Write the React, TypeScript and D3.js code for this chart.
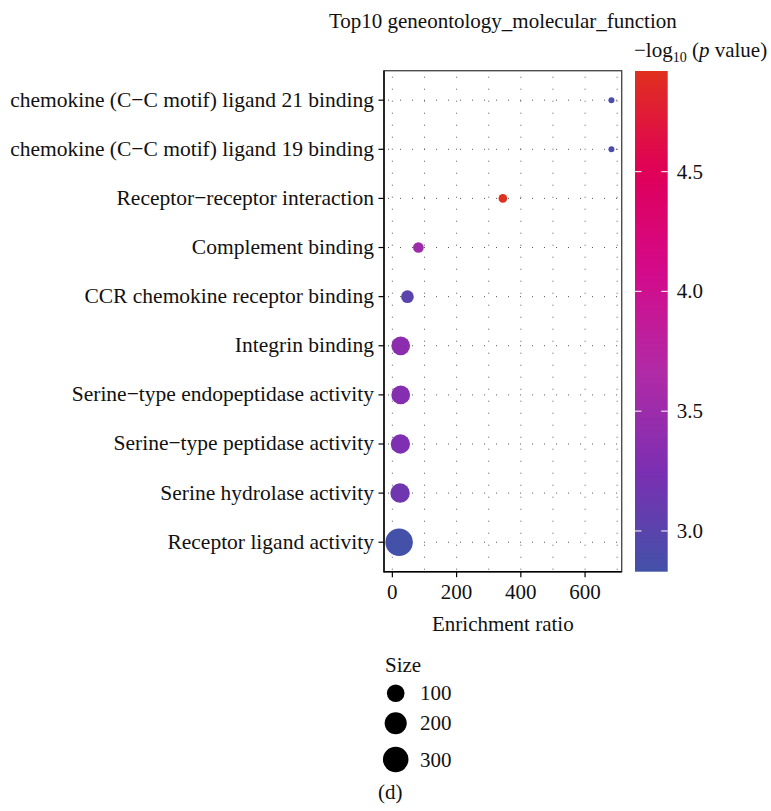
import React from "react";
import * as d3 from "d3";

const categories = [
  "chemokine (C\u2212C motif) ligand 21 binding",
  "chemokine (C\u2212C motif) ligand 19 binding",
  "Receptor\u2212receptor interaction",
  "Complement binding",
  "CCR chemokine receptor binding",
  "Integrin binding",
  "Serine\u2212type endopeptidase activity",
  "Serine\u2212type peptidase activity",
  "Serine hydrolase activity",
  "Receptor ligand activity",
];
const enrichment = [682, 682, 344, 81, 47, 26, 26, 25, 24, 21];
const sizes = [2, 2, 8, 21, 41, 143, 143, 156, 160, 400];
const logp = [2.88, 2.88, 4.92, 3.52, 3.0, 3.38, 3.33, 3.28, 3.16, 2.83];
const xTicks = [0, 200, 400, 600];
const xGrid = [0, 100, 200, 300, 400, 500, 600, 700];
const colorTicks = [3.0, 3.5, 4.0, 4.5];
const sizeLegend = [100, 200, 300];

const FONT = "'Liberation Serif', 'DejaVu Serif', serif";
const FS = 21;

export default function App() {
  const W = 771, H = 811;
  const panel = { left: 384, right: 621.7, top: 70.7, bottom: 571.7 };
  const x = d3.scaleLinear().domain([-26, 714]).range([panel.left, panel.right]);
  const y = d3
    .scalePoint<string>()
    .domain(categories)
    .range([panel.top, panel.bottom])
    .padding(0.6);

  const cMin = d3.min(logp) as number;
  const cMax = d3.max(logp) as number;
  const colorStops = ["#4351A8", "#7B2FB2", "#B12AA6", "#D40A8A", "#DF0057", "#E0301E"];
  const color = d3
    .scaleLinear<string>()
    .domain(d3.range(colorStops.length).map((i) => cMin + ((cMax - cMin) * i) / (colorStops.length - 1)))
    .range(colorStops)
    .interpolate(d3.interpolateRgb);

  const sMin = d3.min(sizes) as number;
  const sMax = d3.max(sizes) as number;
  const rLin = d3.scaleLinear().domain([0, 1]).range([3, 13.7]);
  const rScale = (v: number) => rLin(Math.sqrt(Math.max(0, (v - sMin) / (sMax - sMin))));

  const bar = { left: 635, right: 667.7, top: 71, bottom: 571.7 };
  const cy = d3.scaleLinear().domain([cMin, cMax]).range([bar.bottom, bar.top]);
  const gradStops = d3.range(0, 1.0001, 0.05).map((t) => ({
    off: t,
    col: color(cMin + (cMax - cMin) * t),
  }));

  const order = d3.range(categories.length).sort((a, b) => sizes[b] - sizes[a]);

  return (
    <svg width={W} height={H} style={{ display: "block", position: "absolute", left: 0, top: 0 }} fontFamily={FONT}>
      <defs>
        <linearGradient id="cbar" x1="0" y1="1" x2="0" y2="0">
          {gradStops.map((s, i) => (
            <stop key={i} offset={s.off} stopColor={s.col} />
          ))}
        </linearGradient>
      </defs>
      <rect width={W} height={H} fill="#fff" />
      {/* title */}
      <text x={(panel.left + panel.right) / 2} y={28} textAnchor="middle" fontSize={FS} fill="#111">
        Top10 geneontology_molecular_function
      </text>
      {/* grid */}
      {xGrid.map((g) => (
        <line key={"vx" + g} x1={x(g)} x2={x(g)} y1={panel.top} y2={panel.bottom} stroke="#555" strokeWidth={1} strokeDasharray="1 11" strokeDashoffset={-6} />
      ))}
      {categories.map((c) => (
        <line key={"hy" + c} x1={panel.left} x2={panel.right} y1={y(c)} y2={y(c)} stroke="#555" strokeWidth={1} strokeDasharray="1 11" strokeDashoffset={-4} />
      ))}
      {/* panel border */}
      <rect x={panel.left} y={panel.top} width={panel.right - panel.left} height={panel.bottom - panel.top} fill="none" stroke="#4d4d4d" strokeWidth={1.4} />
      <line x1={panel.left} x2={panel.left} y1={panel.top} y2={panel.bottom + 0.7} stroke="#000" strokeWidth={1.4} />
      <line x1={panel.left} x2={panel.right} y1={panel.bottom} y2={panel.bottom} stroke="#000" strokeWidth={1.4} />
      {/* points */}
      {order.map((i) => (
        <circle key={"p" + i} cx={x(enrichment[i])} cy={y(categories[i])} r={rScale(sizes[i])} fill={color(logp[i])} />
      ))}
      {/* y axis */}
      {categories.map((c) => (
        <g key={"yl" + c}>
          <line x1={panel.left - 5.5} x2={panel.left} y1={y(c)} y2={y(c)} stroke="#000" strokeWidth={1.2} />
          <text x={panel.left - 10} y={(y(c) as number) + 6.5} textAnchor="end" fontSize={21.5} fill="#111">
            {c}
          </text>
        </g>
      ))}
      {/* x axis */}
      {xTicks.map((t) => (
        <g key={"xt" + t}>
          <line x1={x(t)} x2={x(t)} y1={panel.bottom} y2={panel.bottom + 5.5} stroke="#000" strokeWidth={1.2} />
          <text x={x(t)} y={598.5} textAnchor="middle" fontSize={FS} fill="#111">
            {t}
          </text>
        </g>
      ))}
      <text x={(panel.left + panel.right) / 2} y={630.5} textAnchor="middle" fontSize={FS} fill="#111">
        Enrichment ratio
      </text>
      {/* colorbar */}
      <text x={bar.left - 1} y={57} fontSize={FS} fill="#111">
        {"\u2212log"}
        <tspan fontSize={14} dy={5}>10</tspan>
        <tspan dy={-5}>{" ("}</tspan>
        <tspan fontStyle="italic">p</tspan>
        <tspan>{" value)"}</tspan>
      </text>
      <rect x={bar.left} y={bar.top} width={bar.right - bar.left} height={bar.bottom - bar.top} fill="url(#cbar)" />
      {colorTicks.map((t) => (
        <g key={"ct" + t}>
          <line x1={bar.left} x2={bar.left + 6.5} y1={cy(t)} y2={cy(t)} stroke="#fff" strokeWidth={1.2} opacity={0.85} />
          <line x1={bar.right - 6.5} x2={bar.right} y1={cy(t)} y2={cy(t)} stroke="#fff" strokeWidth={1.2} opacity={0.85} />
          <text x={bar.right + 9} y={cy(t) + 7} fontSize={FS} fill="#111">
            {t.toFixed(1)}
          </text>
        </g>
      ))}
      {/* size legend */}
      <text x={385} y={671.5} fontSize={FS} fill="#111">Size</text>
      {sizeLegend.map((s, i) => {
        const cyy = [693.3, 723.3, 759.5][i];
        return (
          <g key={"sl" + s}>
            <circle cx={395.7} cy={cyy} r={rScale(s) + 0.5} fill="#000" />
            <text x={420} y={cyy + 7} fontSize={FS} fill="#111">
              {s}
            </text>
          </g>
        );
      })}
      <text x={378} y={799} fontSize={FS} fill="#111">(d)</text>
    </svg>
  );
}
